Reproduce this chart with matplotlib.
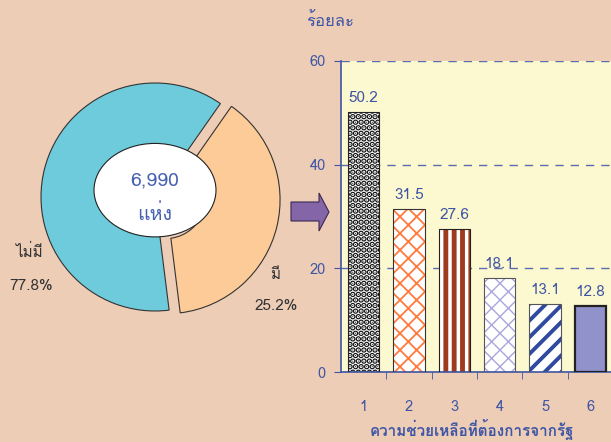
import matplotlib
matplotlib.use("Agg")
import matplotlib.pyplot as plt
from matplotlib import font_manager as fm
from matplotlib.ft2font import FT2Font
from matplotlib.patches import Ellipse, Polygon

# find any installed font that has Thai glyphs
thai_font = None
for f in fm.fontManager.ttflist:
    try:
        if 0x0E23 in FT2Font(f.fname).get_charmap():
            thai_font = f.name
            break
    except Exception:
        pass
fams = [thai_font, "DejaVu Sans"] if thai_font else ["DejaVu Sans"]
plt.rcParams["font.family"] = fams

# donut data
pie_names = ["ไม่มี", "มี"]
pie_labels = ["77.8%", "25.2%"]
pie_shares = [61.7, 38.3]   # wedge sizes as drawn in the picture
pie_colors = ["#6DCBDB", "#FCCB98"]
total_text = ["6,990", "แห่ง"]

# bar data
cats = ["1", "2", "3", "4", "5", "6"]
vals = [50.2, 31.5, 27.6, 18.1, 13.1, 12.8]
hatches = ["...", "xx", "||", "xx", "//", ""]
hatch_cols = ["#111111", "#FF7A3C", "#A03A1E", "#A9A6DA", "#2F4A9E", "#9192CC"]
hatch_lw = [3.0, 1.3, 3.5, 1.0, 2.8, 1.0]
faces = ["white", "white", "white", "white", "white", "#9192CC"]
edges = ["#222222", "#333333", "#222222", "#555555", "#555555", "#222222"]
edge_w = [0.8, 0.8, 0.8, 0.8, 0.8, 1.6]

BG = "#EDCDB6"
BLUE = "#3F55A5"
W, H = 611, 442

fig = plt.figure(figsize=(6.11, 4.42), dpi=100, facecolor=BG)

# ---- donut ----
cx, cy, r = 155, 197, 114
half = 130
pax = fig.add_axes([(cx - half) / W, 1 - (cy + half) / H, 2 * half / W, 2 * half / H])
pax.pie(pie_shares, colors=pie_colors, startangle=55, counterclock=True,
        explode=[0, 0.1], radius=1,
        wedgeprops=dict(width=0.66, edgecolor="#333333", linewidth=0.8))
pax.set_xlim(-half / r, half / r)
pax.set_ylim(-half / r, half / r)
pax.axis("off")
pax.add_patch(Ellipse((0, 0.06), 1.07, 0.82, facecolor="white",
                      edgecolor="#222222", linewidth=0.8, zorder=5))
pax.text(0, 0.15, total_text[0], ha="center", va="center", color="#4560B0",
         fontsize=14, zorder=6)
pax.text(0, -0.15, total_text[1], ha="center", va="center", color="#4560B0",
         fontsize=14, zorder=6)

fig.text(29 / W, 1 - 252 / H, pie_names[0], ha="center", va="center",
         fontsize=11, color="#333333")
fig.text(31 / W, 1 - 286 / H, pie_labels[0], ha="center", va="center",
         fontsize=11, color="#333333")
fig.text(275 / W, 1 - 275 / H, pie_names[1], ha="center", va="center",
         fontsize=11, color="#333333")
fig.text(276 / W, 1 - 306 / H, pie_labels[1], ha="center", va="center",
         fontsize=11, color="#333333")

# ---- arrow ----
arrow_px = [(291, 202), (319, 202), (319, 193), (329, 212), (319, 231),
            (319, 221), (291, 221)]
fig.patches.append(Polygon([(x / W, 1 - y / H) for x, y in arrow_px], closed=True,
                           transform=fig.transFigure, facecolor="#8466A8",
                           edgecolor="#3A2A50", linewidth=0.8))

# ---- bars ----
ax = fig.add_axes([341 / W, 1 - 372 / H, 272 / W, 311 / H])
ax.set_facecolor("#FCF8CF")
xs = list(range(len(cats)))
for i, v in enumerate(vals):
    b = ax.bar(xs[i], v, 0.69, color=faces[i], hatch=hatches[i],
               edgecolor=hatch_cols[i], linewidth=0, zorder=2)
    for p in b:
        if hasattr(p, "set_hatch_linewidth"):
            p.set_hatch_linewidth(hatch_lw[i])
    ax.bar(xs[i], v, 0.69, fill=False, edgecolor=edges[i], linewidth=edge_w[i],
           zorder=3)
    ax.annotate(f"{v}", (xs[i], v), xytext=(0, 5), textcoords="offset points",
                ha="center", va="bottom", color=BLUE, fontsize=11, zorder=4)

ax.set_xlim(-0.5, len(cats) - 0.5)
ax.set_ylim(0, 60)
ax.set_yticks([0, 20, 40, 60])
ax.set_xticks(xs)
ax.set_xticklabels(cats)
ax.set_xticks([i + 0.5 for i in xs[:-1]], minor=True)
ax.tick_params(axis="x", which="major", length=0, pad=20, colors=BLUE, labelsize=10.5)
ax.tick_params(axis="x", which="minor", length=5, color=BLUE, direction="out")
ax.tick_params(axis="y", length=5, color=BLUE, labelcolor=BLUE, labelsize=10.5, pad=6)
ax.yaxis.grid(True, linestyle=(0, (6, 5)), color="#5A6DB0", linewidth=1)
ax.set_axisbelow(True)
for s in ["top", "right"]:
    ax.spines[s].set_visible(False)
for s in ["left", "bottom"]:
    ax.spines[s].set_color(BLUE)
    ax.spines[s].set_linewidth(1.2)

fig.text(330 / W, 1 - 22 / H, "ร้อยละ", ha="center", va="center",
         color=BLUE, fontsize=12)
fig.text(472 / W, 1 - 430 / H, "ความช่วยเหลือที่ต้องการจากรัฐ", ha="center",
         va="center", color=BLUE, fontsize=11, fontweight="bold")

fig.savefig("out.png", dpi=100, facecolor=BG)
